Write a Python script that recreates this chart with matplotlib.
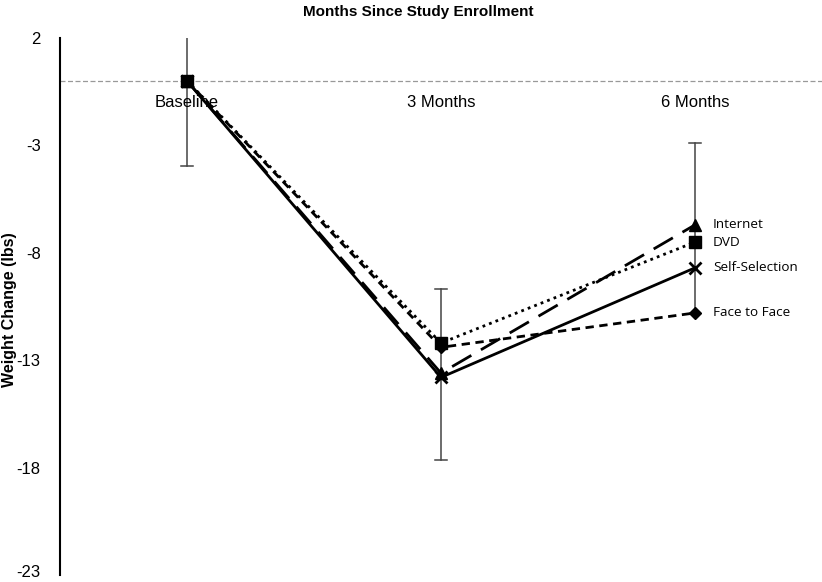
import matplotlib
matplotlib.use("Agg")
import matplotlib.pyplot as plt
import matplotlib.transforms as mtransforms
import numpy as np

categories = ["Baseline", "3 Months", "6 Months"]
internet = [0.0, -13.6, -6.7]
dvd = [0.0, -12.2, -7.5]
self_selection = [0.0, -13.8, -8.7]
face_to_face = [0.0, -12.4, -10.8]
err_low = [-3.95, -17.65, -10.8]
err_high = [3.95, -9.7, -2.9]
low_cap = [True, True, False]
yticks = [2, -3, -8, -13, -18, -23]
series_labels = ["Internet", "DVD", "Self-Selection", "Face to Face"]

fig = plt.figure(figsize=(8.22, 5.82), dpi=100)
ax = fig.add_axes([60/822, 1-575/582, 1-60/822, (575-38)/582])
x = np.arange(len(categories))

# error bars
for xi, lo, hi, lc in zip(x, err_low, err_high, low_cap):
    ax.plot([xi, xi], [lo, hi], color="#444444", lw=1.1, zorder=1)
    caps = [hi] + ([lo] if lc else [])
    for yy in caps:
        if -23 <= yy <= 2:
            ax.plot([xi-0.025, xi+0.025], [yy, yy], color="#444444", lw=1.1, zorder=1)
ax.axhline(0, color="#999999", lw=0.9, ls=(0, (4, 2)), zorder=0)

ax.plot(x, face_to_face, color="black", lw=2, ls=(0, (3, 2)), marker="D", ms=6, zorder=3)
ax.plot(x, self_selection, color="black", lw=2, ls="-", marker="x", ms=8, mew=2, zorder=3)
ax.plot(x, dvd, color="black", lw=2, ls=(0, (1, 1.5)), marker="s", ms=8, zorder=4)
ax.plot(x, internet, color="black", lw=2, ls=(0, (8, 4)), marker="^", ms=8, zorder=3)

ax.set_xlim(-0.5, 2.5)
ax.set_ylim(-23, 2)
ax.set_yticks(yticks)
ax.set_yticklabels([str(t) for t in yticks], fontsize=12, family="Liberation Sans")
ax.tick_params(axis="y", length=0, pad=14)
ax.set_xticks([])
for s in ["top", "right", "bottom"]:
    ax.spines[s].set_visible(False)
ax.spines["left"].set_linewidth(1.5)

fig.canvas.draw()
last = ax.get_yticklabels()[-1]
last.set_va("bottom")
last.set_transform(last.get_transform() + mtransforms.ScaledTranslation(0, -5/100, fig.dpi_scale_trans))

for xi, c in zip(x, categories):
    ax.text(xi, -1.0, c, ha="center", va="center", fontsize=12, family="Liberation Sans")

label_y = [internet[2], dvd[2], self_selection[2], face_to_face[2]]
for lab, yy in zip(series_labels, label_y):
    ax.text(2.07, yy, lab, ha="left", va="center", fontsize=9.7, family="Open Sans")

fig.text(418/822, 1-12/582, "Months Since Study Enrollment", ha="center", va="center",
         fontsize=11, fontweight="bold", family="Liberation Sans")
fig.text(10/822, 1-(310/582), "Weight Change (lbs)", ha="center", va="center", rotation=90,
         fontsize=11.5, fontweight="bold", family="Liberation Sans")

fig.savefig("out.png", dpi=100)
